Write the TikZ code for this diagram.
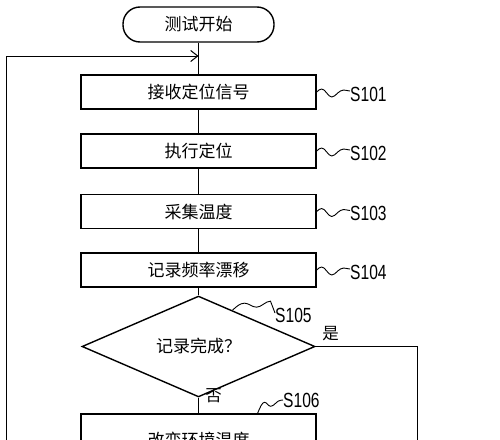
\documentclass[tikz,border=0pt]{standalone}
\usepackage{fontspec}
\newfontfamily\cjkfont{Noto Sans CJK SC}
\newfontfamily\stepfont[FakeStretch=0.76]{Liberation Sans}
\usepackage{tikz}
\usetikzlibrary{shapes.geometric,arrows.meta,positioning,calc}

\begin{document}
\begin{tikzpicture}[x=1pt, y=-1pt,
    proc/.style={draw, rectangle, line width=1.4pt, minimum width=235pt, minimum height=34pt, inner sep=0pt, font=\cjkfont\fontsize{17}{20}\selectfont},
    term/.style={draw, rectangle, rounded corners=17pt, line width=1.4pt, minimum width=151pt, minimum height=35pt, inner sep=0pt, font=\cjkfont\fontsize{17}{20}\selectfont},
    decision/.style={draw, diamond, line width=1.4pt, minimum width=233pt, minimum height=67pt, inner sep=0pt, font=\cjkfont\fontsize{17}{20}\selectfont},
    steplabel/.style={anchor=west, inner sep=0pt, font=\stepfont\fontsize{20.5}{22}\selectfont},
    answer/.style={inner sep=0pt, font=\cjkfont\fontsize{16.5}{18}\selectfont},
    flow/.style={line width=1pt},
    wave/.style={line width=0.9pt}]
    \useasboundingbox (0,0) rectangle (500,439);
    \clip (0,0) rectangle (500,439);

    % Steps
    \node[term] (start) at (198.5,24.5) {测试开始};
    \node[proc] (s101) at (198.5,92) {接收定位信号};
    \node[proc] (s102) at (198.5,151) {执行定位};
    \node[proc] (s103) at (198.5,211.5) {采集温度};
    \node[proc] (s104) at (198.5,270) {记录频率漂移};
    \node[decision] (dec) at (198.5,346.5) {记录完成？};
    \node[proc, minimum height=52pt] (s106) at (198.5,440) {改变环境温度};

    % Step numbers
    \node[steplabel] (l101) at (350,94) {S101};
    \node[steplabel] (l102) at (350,153) {S102};
    \node[steplabel] (l103) at (350,213.5) {S103};
    \node[steplabel] (l104) at (350,272) {S104};
    \node[steplabel] (l105) at (275,315) {S105};
    \node[steplabel] (l106) at (283,400) {S106};

    % Answers
    \node[answer] (yes) at (330.5,334) {是};
    \node[answer] (no) at (213.5,396) {否};

    % Flow lines
    \draw[flow] (start) -- (s101);
    \draw[flow] (s101) -- (s102);
    \draw[flow] (s102) -- (s103);
    \draw[flow] (s103) -- (s104);
    \draw[flow] (s104) -- (dec);
    \draw[flow] (dec) -- (s106);

    \coordinate (yesbend) at (417,346.5);
    \coordinate (yesend) at (417,470);
    \draw[flow] (dec.east) -- (yesbend) -- (yesend);

    % Loop back
    \coordinate (loopbot) at (6,470);
    \coordinate (looptop) at (6,56);
    \coordinate (loopin) at (198.5,56);
    \draw[flow, -{Straight Barb[length=7pt, width=11pt]}] (loopbot) -- (looptop) -- (loopin);

    % Step number leaders
    \draw[wave] (s101.east) sin ++(5,-3) cos ++(5,4) sin ++(5,4) cos ++(6,-4) sin ++(6,-3) -- ([yshift=3pt]l101.west);
    \draw[wave] (s102.east) sin ++(5,-3) cos ++(5,4) sin ++(5,4) cos ++(6,-4) sin ++(6,-3) -- ([yshift=3pt]l102.west);
    \draw[wave] (s103.east) sin ++(5,-3) cos ++(5,4) sin ++(5,4) cos ++(6,-4) sin ++(6,-3) -- ([yshift=3pt]l103.west);
    \draw[wave] (s104.east) sin ++(5,-3) cos ++(5,4) sin ++(5,4) cos ++(6,-4) sin ++(6,-3) -- ([yshift=3pt]l104.west);
    \draw[wave] ($(dec.north)!0.29!(dec.east)$) sin ++(12,-7) cos ++(6,2) sin ++(6,2) cos ++(7,-3) sin ++(7,-3) -- ([yshift=2pt]l105.west);
    \draw[wave] ($(s106.north west)!0.75!(s106.north east)$) sin ++(7,-11) cos ++(3,2) sin ++(3,2) cos ++(5,-3) sin ++(5,-3) -- (l106.west);
\end{tikzpicture}
\end{document}
